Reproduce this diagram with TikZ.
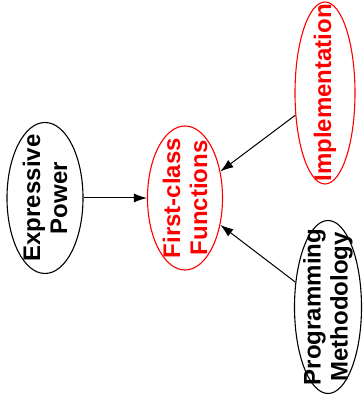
\documentclass[tikz,border=0pt]{standalone}
\usepackage{fontspec}
\setmainfont{Liberation Sans}
\usetikzlibrary{shapes.geometric,arrows.meta}
\begin{document}
\begin{tikzpicture}[x=1pt,y=1pt,
  oval/.style={ellipse, draw, line width=1.1pt, inner sep=0pt, rotate=90},
  txt/.style={rotate=90, align=center, font=\fontsize{24}{27}\selectfont\bfseries, inner sep=0pt},
  arr/.style={-{Latex[length=13pt,width=9pt]}, line width=1pt}]
\useasboundingbox (0,0) rectangle (363,403);
\node[oval, minimum width=151pt, minimum height=76pt,
  label={[txt]center:Expressive\\Power}] (ep) at (45,205) {};
\node[oval, draw=red, minimum width=144pt, minimum height=75pt,
  label={[txt,text=red]center:First-class\\Functions}] (fc) at (185,205) {};
\node[oval, draw=red, minimum width=182pt, minimum height=60pt,
  label={[txt,text=red]center:Implementation}] (im) at (325,310) {};
\node[oval, minimum width=173pt, minimum height=67pt,
  label={[txt]center:Programming\\Methodology}] (pm) at (328,96) {};
\draw[arr] (ep) -- (fc);
\draw[arr] (im) -- (fc);
\draw[arr] (pm) -- (fc);
\end{tikzpicture}
\end{document}
